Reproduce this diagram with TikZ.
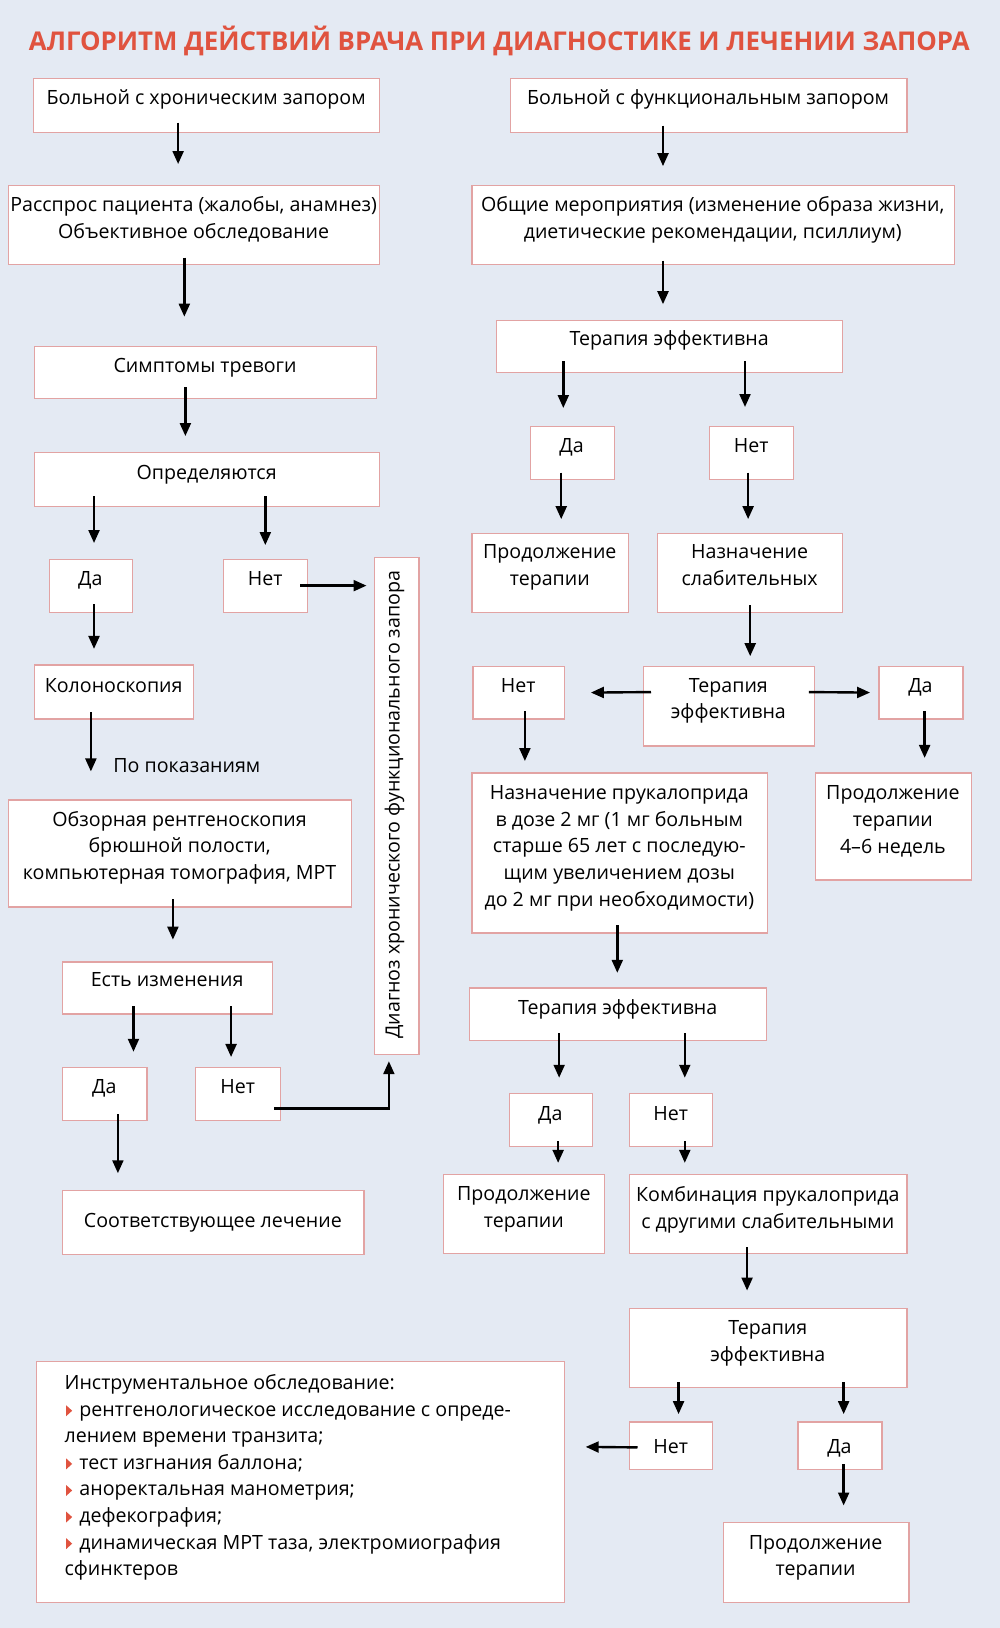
\documentclass[tikz,border=0pt]{standalone}
\usepackage{fontspec}
\setmainfont{Open Sans}
\usetikzlibrary{arrows.meta,calc}
\definecolor{bg}{HTML}{E4EAF3}
\definecolor{bord}{HTML}{E2A3A3}
\definecolor{tred}{HTML}{E0533F}
\newcommand\stt{\rule[-4.5pt]{0pt}{18pt}}
\newcommand\bul{\hspace*{1.5pt}\tikz[x=1pt,y=1pt,baseline=0pt]\fill[tred] (0,0) -- (0,10.5) -- (5.8,5.25) -- cycle;\hspace*{7pt}}
\newcommand\bx[5]{\node[box, minimum width=#4pt, minimum height=#5pt] (#1) at (#2,#3) {};}
\begin{document}
\begin{tikzpicture}[x=1pt,y=-1pt,
  box/.style={draw=bord, line width=1.1pt, fill=white, inner sep=0pt, anchor=north west},
  txt/.style={font=\fontsize{18.9}{25.6}\selectfont, align=center, inner sep=0pt, yshift=-2pt,
    execute at begin node=\stt, execute at end node=\stt},
  arr/.style={line width=2.3pt, -{Triangle[length=12.5pt,width=10.5pt]}}]
\fill[bg] (0,0) rectangle (963,1568);
\useasboundingbox (0,0) rectangle (963,1568);
\node[font=\fontsize{24.9}{28}\selectfont\bfseries, text=tred, anchor=base, inner sep=0pt] (title) at (481,49)
  {АЛГОРИТМ ДЕЙСТВИЙ ВРАЧА ПРИ ДИАГНОСТИКЕ И ЛЕЧЕНИИ ЗАПОРА};
% left column boxes
\bx{b1}{32}{75}{333}{52}
\bx{b2}{8}{178}{357}{76}
\bx{b3}{33}{333}{329}{50}
\bx{b4}{33}{435}{332}{52}
\bx{b5}{47}{538}{80}{51}
\bx{b6}{215}{538}{81}{51}
\bx{diag}{360}{536}{43}{479}
\bx{b8}{33}{640}{153}{52}
\bx{b9}{8}{770}{330}{103}
\bx{b10}{60}{926}{202}{50}
\bx{b11}{60}{1028}{81}{51}
\bx{b12}{188}{1028}{82}{51}
\bx{b13}{60}{1146}{290}{62}
% right column boxes
\bx{r1}{491}{75}{382}{52}
\bx{r2}{454}{178}{465}{76}
\bx{r3}{478}{308}{333}{50}
\bx{r4}{510}{410}{81}{51}
\bx{r5}{683}{410}{81}{51}
\bx{r6}{454}{513}{151}{76}
\bx{r7}{633}{513}{178}{76}
\bx{r8}{619}{641}{165}{77}
\bx{r9}{455}{641}{88}{51}
\bx{r10}{846}{641}{81}{51}
\bx{r11}{454}{744}{285}{154}
\bx{r12}{785}{744}{150}{103}
\bx{r13}{452}{951}{286}{51}
\bx{r14}{490}{1053}{80}{51}
\bx{r15}{606}{1053}{80}{51}
\bx{r16}{427}{1131}{155}{76}
\bx{r17}{606}{1131}{267}{76}
\bx{r18}{606}{1260}{267}{76}
\bx{r19}{606}{1369}{80}{46}
\bx{r20}{768}{1369}{81}{46}
\bx{r21}{696}{1466}{179}{77}
\bx{instr}{35}{1311}{508}{232}
% texts
\node[txt] (b1t) at (198.5,94) {Больной с хроническим запором};
\node[txt] (b2t) at (186.5,209.5) {Расспрос пациента (жалобы, анамнез)\\Объективное обследование};
\node[txt] (b3t) at (197.5,352) {Симптомы тревоги};
\node[txt] (b4t) at (199,455) {Определяются};
\node[txt] (b5t) at (87,557) {Да};
\node[txt] (b6t) at (255.5,557) {Нет};
\node[txt, rotate=90, xshift=2pt, yshift=2pt] (diagt) at (382,775) {Диагноз хронического функционального запора};
\node[txt] (b8t) at (109.5,660) {Колоноскопия};
\node[txt] (pp) at (180,738) {По показаниям};
\node[txt] (b9t) at (173,814.5) {Обзорная рентгеноскопия\\брюшной полости,\\компьютерная томография, МРТ};
\node[txt] (b10t) at (161,944) {Есть изменения};
\node[txt] (b11t) at (100.5,1047) {Да};
\node[txt] (b12t) at (229,1047) {Нет};
\node[txt] (b13t) at (205,1176) {Соответствующее лечение};
\node[txt] (r1t) at (682,94) {Больной с функциональным запором};
\node[txt] (r2t) at (686.5,209.5) {Общие мероприятия (изменение образа жизни,\\диетические рекомендации, псиллиум)};
\node[txt] (r3t) at (644.5,326) {Терапия эффективна};
\node[txt] (r4t) at (550.5,429) {Да};
\node[txt] (r5t) at (723.5,429) {Нет};
\node[txt] (r6t) at (529.5,544.5) {Продолжение\\терапии};
\node[txt] (r7t) at (722,544.5) {Назначение\\слабительных};
\node[txt] (r8t) at (701.5,673) {Терапия\\эффективна};
\node[txt] (r9t) at (499,660) {Нет};
\node[txt] (r10t) at (886.5,660) {Да};
\node[txt] (r11t) at (596.5,815) {Назначение прукалоприда\\в дозе 2 мг (1 мг больным\\старше 65 лет с последую-\\щим увеличением дозы\\до 2 мг при необходимости)};
\node[txt] (r12t) at (860,789.5) {Продолжение\\терапии\\4–6 недель};
\node[txt] (r13t) at (595,970) {Терапия эффективна};
\node[txt] (r14t) at (530,1073) {Да};
\node[txt] (r15t) at (646,1073) {Нет};
\node[txt] (r16t) at (504.5,1163) {Продолжение\\терапии};
\node[txt] (r17t) at (739.5,1163) {Комбинация прукалоприда\\с другими слабительными};
\node[txt] (r18t) at (739.5,1292) {Терапия\\эффективна};
\node[txt] (r19t) at (646,1393) {Нет};
\node[txt] (r20t) at (808.5,1393) {Да};
\node[txt] (r21t) at (785.5,1498.5) {Продолжение\\терапии};
\node[txt, align=left, anchor=west] (instrt) at (62,1421) {Инструментальное обследование:\\
\bul рентгенологическое исследование с опреде-\\
лением времени транзита;\\
\bul тест изгнания баллона;\\
\bul аноректальная манометрия;\\
\bul дефекография;\\
\bul динамическая МРТ таза, электромиография\\
сфинктеров};
% left arrows
\draw[arr] ([xshift=-27.5pt,yshift=10pt]b1.south) -- ([xshift=-15.5pt,yshift=20pt]b2.north);
\draw[arr] ([xshift=-9.5pt,yshift=7pt]b2.south) -- ([xshift=-20.5pt,yshift=28pt]b3.north);
\draw[arr] ([xshift=-19.5pt,yshift=11pt]b3.south) -- ([xshift=-21pt,yshift=15pt]b4.north);
\draw[arr] ([xshift=-109pt,yshift=10pt]b4.south) -- ([xshift=3pt,yshift=15pt]b5.north);
\draw[arr] ([xshift=56pt,yshift=10pt]b4.south) -- ([xshift=-0.5pt,yshift=13pt]b6.north);
\draw[arr] ([xshift=3pt,yshift=8pt]b5.south) -- ([xshift=-19.5pt,yshift=15pt]b8.north);
\draw[arr] ([xshift=-8pt]b6.east) -- ($(b6.east -| diag.west)+(-7,0)$);
\draw[arr] ([xshift=-22.5pt,yshift=7pt]b8.south) -- ([xshift=-86pt,yshift=27pt]b9.north);
\draw[arr] ([xshift=-7pt,yshift=8pt]b9.south) -- ([xshift=5pt,yshift=21pt]b10.north);
\draw[arr] ([xshift=-33pt,yshift=8pt]b10.south) -- ([xshift=27.5pt,yshift=15pt]b11.north);
\draw[arr] ([xshift=61pt,yshift=8pt]b10.south) -- ([xshift=-7pt,yshift=10pt]b12.north);
\draw[arr] ([xshift=12.5pt,yshift=7pt]b11.south) -- ([xshift=-92pt,yshift=16pt]b13.north);
\draw[arr] ([xshift=-7pt,yshift=-13.5pt]b12.east) -| ([xshift=-7.5pt,yshift=-6pt]diag.south);
% right arrows
\draw[arr] ([xshift=-44pt,yshift=7pt]r1.south) -- ([xshift=-48.5pt,yshift=18pt]r2.north);
\draw[arr] ([xshift=-48.5pt,yshift=4pt]r2.south) -- ([xshift=-6.5pt,yshift=15pt]r3.north);
\draw[arr] ([xshift=-102.5pt,yshift=11pt]r3.south) -- ([xshift=-8.5pt,yshift=17pt]r4.north);
\draw[arr] ([xshift=72.5pt,yshift=11pt]r3.south) -- ([xshift=-6.5pt,yshift=18pt]r5.north);
\draw[arr] ([xshift=-10.5pt,yshift=7pt]r4.south) -- ([xshift=10.5pt,yshift=13pt]r6.north);
\draw[arr] ([xshift=-3.5pt,yshift=7pt]r5.south) -- ([xshift=-2pt,yshift=13pt]r7.north);
\draw[arr] ([yshift=7pt]r7.south) -- ([xshift=20.5pt,yshift=9pt]r8.north);
\draw[arr] ([xshift=8pt,yshift=13.5pt]r8.west) -- ([xshift=25pt]r9.east);
\draw[arr] ([xshift=-6pt,yshift=13.5pt]r8.east) -- ([xshift=-8pt]r10.west);
\draw[arr] ([xshift=6pt,yshift=8pt]r9.south) -- ([xshift=-91.5pt,yshift=11pt]r11.north);
\draw[arr] ([xshift=3.5pt,yshift=8pt]r10.south) -- ([xshift=30pt,yshift=14pt]r12.north);
\draw[arr] ([xshift=-2.5pt,yshift=8pt]r11.south) -- ([xshift=-1pt,yshift=14pt]r13.north);
\draw[arr] ([xshift=-57pt,yshift=8pt]r13.south) -- ([xshift=8pt,yshift=15pt]r14.north);
\draw[arr] ([xshift=64pt,yshift=8pt]r13.south) -- ([xshift=13pt,yshift=15pt]r15.north);
\draw[arr] ([xshift=7pt,yshift=6pt]r14.south) -- ([xshift=32.5pt,yshift=11pt]r16.north);
\draw[arr] ([xshift=13pt,yshift=6pt]r15.south) -- ([xshift=-80.5pt,yshift=11pt]r17.north);
\draw[arr] ([xshift=-20.5pt,yshift=7pt]r17.south) -- ([xshift=-20.5pt,yshift=17pt]r18.north);
\draw[arr] ([xshift=-86.5pt,yshift=6pt]r18.south) -- ([xshift=7pt,yshift=7pt]r19.north);
\draw[arr] ([xshift=72.5pt,yshift=6pt]r18.south) -- ([xshift=3.5pt,yshift=7pt]r20.north);
\draw[arr] ([xshift=8pt,yshift=-1.5pt]r19.west) -- ([xshift=20pt,yshift=34pt]instr.east);
\draw[arr] ([xshift=3.5pt,yshift=6pt]r20.south) -- ([xshift=26.5pt,yshift=16pt]r21.north);
\end{tikzpicture}
\end{document}
